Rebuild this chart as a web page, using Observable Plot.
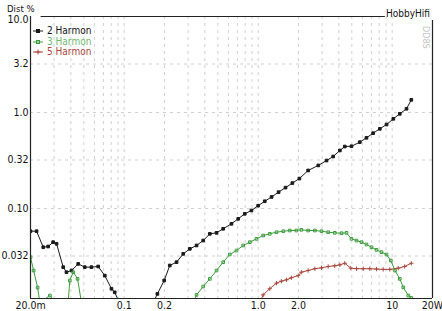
<!DOCTYPE html>
<html><head><meta charset="utf-8">
<script src="https://cdn.jsdelivr.net/npm/d3@7"></script>
<script src="https://cdn.jsdelivr.net/npm/@observablehq/plot@0.6"></script>
<style>
body{margin:0;background:#fff;}
#wrap{position:relative;width:442px;height:311px;overflow:hidden;background:#fff;}
.t{position:absolute;font-family:"Liberation Sans Narrow","DejaVu Sans Condensed","Liberation Sans",sans-serif;white-space:nowrap;line-height:1;}
.leg{left:33px;top:26px;font-size:10px;}
.leg div{height:10.5px;display:flex;align-items:center;}
.leg svg{margin-right:4px;}
</style></head><body><div id="wrap"></div>
<script>
// ---- data (x = power in W, y = distortion in %) ----
const h2x = [0.02,0.0222,0.0249,0.0271,0.0295,0.0313,0.0351,0.0371,0.0405,0.0454,0.0508,0.057,0.064,0.0717,0.0804,0.085,0.092,
  0.165,0.177,0.199,0.219,0.246,0.276,0.309,0.347,0.389,0.436,0.489,0.548,0.632,0.71,0.794,0.891,1.0,1.12,1.26,1.42,1.6,1.8,2.03,
  2.36,2.81,3.24,3.63,4.07,4.43,4.97,5.73,6.43,7.21,8.09,9.08,10.2,11.4,12.8,13.9];
const h2y = [0.058,0.058,0.0395,0.0402,0.0446,0.0429,0.0245,0.0217,0.0226,0.0265,0.0245,0.0245,0.0249,0.020,0.0146,0.0134,0.0105,
  0.0105,0.0129,0.0178,0.0255,0.0276,0.0337,0.038,0.0412,0.0464,0.0545,0.0558,0.0615,0.0693,0.0781,0.088,0.0953,0.107,0.119,0.132,0.148,0.165,0.184,0.205,
  0.249,0.281,0.316,0.348,0.402,0.442,0.445,0.491,0.545,0.609,0.676,0.75,0.859,0.969,1.094,1.355];

const h3x = [0.02,0.0211,0.0226,0.0235,0.0279,0.031,0.0382,0.0393,0.0417,0.0449,0.048,
  0.33,0.347,0.389,0.436,0.489,0.548,0.614,0.689,0.773,0.867,0.972,1.09,1.22,1.37,1.54,1.72,1.93,2.10,2.36,2.65,2.97,3.33,3.73,4.19,4.56,
  4.97,5.42,5.91,6.43,7.01,7.64,8.32,9.07,9.77,10.5,11.4,12.1,13.2,13.9];
const h3y = [0.0311,0.0226,0.015,0.0105,0.0124,0.0105,0.0105,0.0178,0.0217,0.0185,0.0105,
  0.0105,0.0126,0.0154,0.0185,0.0226,0.0276,0.0332,0.0365,0.0412,0.0446,0.0483,0.0523,0.0545,0.0566,0.058,0.059,0.059,0.060,0.059,0.059,0.058,0.0566,0.0558,0.0553,0.0558,
  0.0483,0.0464,0.0446,0.0422,0.0395,0.0371,0.0351,0.0332,0.0287,0.0226,0.0185,0.0151,0.0124,0.0117];

const h5x = [1.03,1.09,1.22,1.37,1.49,1.63,1.77,1.99,2.10,2.36,2.65,2.97,3.33,3.73,4.07,4.43,4.91,5.42,6.08,6.81,7.64,8.57,9.6,11.1,12.4,13.9];
const h5y = [0.0105,0.0126,0.0146,0.0167,0.0175,0.0181,0.019,0.020,0.0217,0.0226,0.0236,0.0241,0.0249,0.0253,0.0259,0.0269,0.0239,0.0236,0.0236,0.0236,0.0234,0.0232,0.0232,0.0239,0.0249,0.0269];

const seriesNames = ["2 Harmon","3 Harmon","5 Harmon"];
const seriesColors = ["#1a1a1a","#3c9c3c","#a8473c"];
const seriesSymbols = ["square","square","plus"];

const xTicks = [0.02,0.05,0.1,0.2,0.5,1,2,5,10,20];
const xLabels = ["20.0m","50.0m","0.1","0.2","0.5","1.0","2.0","5","10","20W"];
const yTicks = [10,3.2,1,0.32,0.1,0.032];
const yLabels = ["10.0","3.2","1.0","0.32","0.10","0.032"];
const gridX = [0.03,0.04,0.05,0.06,0.07,0.08,0.09,0.1,0.2,0.3,0.4,0.5,0.6,0.7,0.8,0.9,1,2,3,4,5,6,7,8,9,10];
const gridY = [3.2,1,0.32,0.1,0.032];

const build = (xs, ys, s) => xs.map((x, i) => ({x, y: ys[i], s}));
const data = [
  ...build(h2x, h2y, seriesNames[0]),
  ...build(h3x, h3y, seriesNames[1]),
  ...build(h5x, h5y, seriesNames[2])
];
const colorOf = Object.fromEntries(seriesNames.map((n, i) => [n, seriesColors[i]]));

const font = '"Liberation Sans Narrow","DejaVu Sans Condensed","Liberation Sans",sans-serif';
const X0 = 0.02, X1 = 20, Y0 = 0.01155, Y1 = 10;

const chart = Plot.plot({
  width: 442, height: 311,
  marginLeft: 30, marginRight: 10, marginTop: 16, marginBottom: 13,
  style: {fontFamily: font, fontSize: "10.5px", background: "#fff", color: "#111"},
  x: {type: "log", domain: [X0, X1]},
  y: {type: "log", domain: [Y0, Y1]},
  marks: [
    Plot.ruleX(gridX, {stroke: "#c4c4c4", strokeWidth: 0.8, strokeDasharray: "3,4"}),
    Plot.ruleY(gridY, {stroke: "#c4c4c4", strokeWidth: 0.8, strokeDasharray: "3,4"}),
    Plot.axisX({ticks: xTicks, tickFormat: (d) => xLabels[xTicks.indexOf(d)], tickSize: 0, tickPadding: 3, label: null, fill: "#111"}),
    Plot.axisY({ticks: yTicks.slice(1), tickFormat: (d) => yLabels[yTicks.indexOf(d)], tickSize: 0, tickPadding: 2, label: null, fill: "#111"}),
    Plot.axisY({ticks: yTicks.slice(0, 1), tickFormat: (d) => yLabels[yTicks.indexOf(d)], tickSize: 0, tickPadding: 2, dy: 3, label: null, fill: "#111"}),
    Plot.line(data, {x: "x", y: "y", z: "s", stroke: (d) => colorOf[d.s], strokeWidth: 1, clip: true}),
    Plot.dot(data, {x: "x", y: "y", symbol: (d) => seriesSymbols[seriesNames.indexOf(d.s)],
      fill: (d) => d.s === seriesNames[0] ? colorOf[d.s] : "none",
      stroke: (d) => colorOf[d.s], strokeWidth: 1, r: 1.5, clip: true}),
    // frame lines
    Plot.ruleX([X0], {y1: Y0, y2: Y1, stroke: "#222", strokeWidth: 1.2}),
    Plot.ruleY([Y0], {x1: X0, x2: X1, stroke: "#222", strokeWidth: 1.2}),
    Plot.ruleY([Y1], {x1: 0.024, x2: 8.9, stroke: "#222", strokeWidth: 1}),
    Plot.ruleX([X1], {y1: Y0, y2: 9.1, stroke: "#222", strokeWidth: 1.2})
  ]
});
const wrap = document.getElementById("wrap");
wrap.appendChild(chart);

function addText(txt, css) {
  const d = document.createElement("div");
  d.className = "t";
  d.textContent = txt;
  Object.assign(d.style, css);
  wrap.appendChild(d);
  return d;
}
addText("Dist %", {left: "7px", top: "4px", fontSize: "9.5px", color: "#111"});
addText("HobbyHifi", {left: "386px", top: "9px", fontSize: "10px", color: "#111"});
addText("DD8S", {left: "430px", top: "26px", fontSize: "9px", color: "#c4c4c4", transform: "rotate(90deg)", transformOrigin: "left top"});

// legend
const leg = document.createElement("div");
leg.className = "t leg";
seriesNames.forEach((n, i) => {
  const row = document.createElement("div");
  const sym = seriesSymbols[i] === "plus"
    ? `<path d="M5,1.5V6.5M2.5,4H7.5" stroke="${seriesColors[i]}" stroke-width="1"/>`
    : `<rect x="3.5" y="2.5" width="3" height="3" fill="${i === 0 ? seriesColors[i] : "none"}" stroke="${seriesColors[i]}"/>`;
  row.innerHTML = `<svg width="10" height="8"><line x1="0" y1="4" x2="10" y2="4" stroke="${seriesColors[i]}"/>${sym}</svg><span style="color:${i === 0 ? "#111" : i === 1 ? "#6fb86f" : "#a8473c"}">${n}</span>`;
  leg.appendChild(row);
});
wrap.appendChild(leg);
</script>
</body></html>
